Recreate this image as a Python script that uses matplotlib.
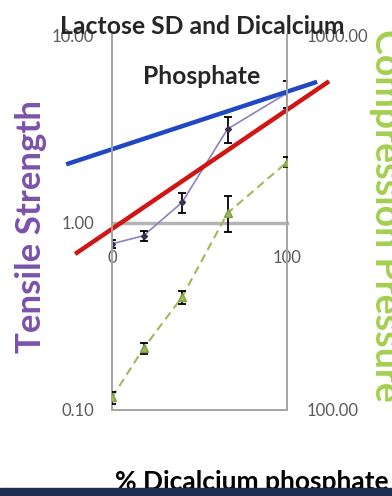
import matplotlib
matplotlib.use("Agg")
import matplotlib.pyplot as plt
from matplotlib.patches import Rectangle

plt.rcParams['font.family'] = ['Lato', 'DejaVu Sans']

# % dicalcium phosphate in the blend
dcp_pct = [0, 18, 40, 66, 100]

# tensile strength (left axis) with error
tensile = [0.77, 0.85, 1.28, 3.15, 4.9]
tensile_err = [0.04, 0.05, 0.16, 0.5, 0.8]

# compression pressure (right axis) with error
pressure = [108, 146, 200, 335, 458]
pressure_err = [4, 5, 8, 37, 14]

# straight reference lines (x ends, y ends on the tensile scale)
blue_x = [-25, 116]
blue_y = [2.06, 5.58]
red_x = [-20, 123]
red_y = [0.69, 5.58]

left_ticks = [0.1, 1, 10]
right_ticks = [100, 1000]
x_ticks = [0, 100]

purple = '#7b52ab'
green = '#9bbb59'
axis_gray = '#a6a6a6'
tick_gray = '#595959'

fig = plt.figure(figsize=(3.92, 4.96), dpi=100)
ax = fig.add_axes([112/392, 1 - 410/496, 175/392, 375/496])
ax.set_yscale('log')
ax.set_xlim(0, 100)
ax.set_ylim(0.1, 10)

ax.plot(dcp_pct, tensile, color='#8e80bd', lw=1.2, zorder=3)
ax.errorbar(dcp_pct, tensile, yerr=tensile_err, fmt='D', ms=3, color='#3b2f55',
            ecolor='black', elinewidth=1.3, capsize=3, capthick=1.3, zorder=4)

ax.plot(blue_x, blue_y, color='#1f49c4', lw=3.2, clip_on=False, zorder=5)
ax.plot(red_x, red_y, color='#d01515', lw=3.2, clip_on=False, zorder=5)

ax.spines['top'].set_visible(False)
for s in ['left', 'bottom', 'right']:
    ax.spines[s].set_color(axis_gray)
    ax.spines[s].set_linewidth(1.3)

ax.set_yticks(left_ticks)
ax.set_yticklabels(['%.2f' % v for v in left_ticks])
ax.yaxis.set_minor_locator(matplotlib.ticker.NullLocator())
ax.tick_params(axis='y', length=0, pad=13, labelsize=12, labelcolor=tick_gray)
ax.set_xticks([])

# x axis crossing at tensile = 1
xsec = ax.secondary_xaxis(0.5)
xsec.set_alignment('bottom')
xsec.set_xticks(x_ticks)
xsec.set_xticklabels([str(v) for v in x_ticks])
xsec.tick_params(length=0, pad=20, labelsize=12, labelcolor=tick_gray)
xsec.spines['bottom'].set_color('#b3b3b3')
xsec.spines['bottom'].set_linewidth(2.5)

ax2 = ax.twinx()
ax2.set_yscale('log')
ax2.set_ylim(100, 1000)
ax2.plot(dcp_pct, pressure, color=green, lw=1.5, ls=(0, (4, 2.5)), zorder=3)
ax2.errorbar(dcp_pct, pressure, yerr=pressure_err, fmt='^', ms=6, color=green,
             mec='#7f9a45', ecolor='black', elinewidth=1.3, capsize=3, capthick=1.3, zorder=4)
ax2.set_yticks(right_ticks)
ax2.set_yticklabels(['%.2f' % v for v in right_ticks])
ax2.yaxis.set_minor_locator(matplotlib.ticker.NullLocator())
ax2.tick_params(axis='y', length=0, pad=14, labelsize=12, labelcolor=tick_gray)
ax2.spines['top'].set_visible(False)
for s in ['left', 'bottom', 'right']:
    ax2.spines[s].set_color(axis_gray)
    ax2.spines[s].set_linewidth(1.3)

ax.set_ylabel('Tensile Strength', color=purple, fontsize=25, fontweight='bold', va='center')
ax.yaxis.set_label_coords(-0.463, 0.49)
ax2.set_ylabel('Compression Pressure', color='#a4cf4f', fontsize=27, fontweight='bold',
               rotation=270, va='center')
ax2.yaxis.set_label_coords(1.565, 0.52)

fig.text(202/392, 1 - 15/496, 'Lactose SD and Dicalcium\nPhosphate', ha='center', va='top',
         fontsize=17.8, fontweight='bold', color='#262626', linespacing=2.4)

fig.text(115/392, 1 - 490/496, '% Dicalcium phosphate', ha='left', va='baseline',
         fontsize=19, fontweight='bold', color='black')

fig.patches.append(Rectangle((0, 0), 1, 8/496, transform=fig.transFigure,
                             color='#1f2d4e', zorder=10))

fig.savefig('out.png', dpi=100)
